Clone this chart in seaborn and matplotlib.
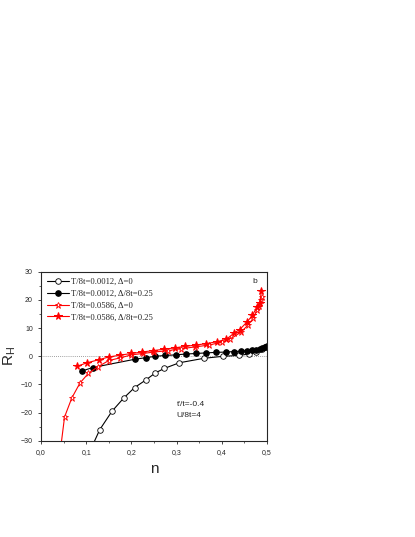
import matplotlib
matplotlib.use("Agg")
import matplotlib.pyplot as plt
import seaborn as sns
import numpy as np
from matplotlib.ticker import FuncFormatter, MultipleLocator

sns.set_style("ticks")
plt.rcParams['font.family'] = ['Liberation Sans', 'DejaVu Sans']

n_open_c = [0.110, 0.130, 0.157, 0.183, 0.207, 0.232, 0.253, 0.273, 0.306, 0.361, 0.403, 0.438, 0.460, 0.475, 0.490, 0.497]
r_open_c = [-33, -26, -19.5, -14.8, -11.1, -8.4, -5.9, -4.3, -2.3, -0.7, 0.0, 0.3, 0.8, 1.5, 2.5, 3.3]
n_fill_c = [0.091, 0.114, 0.209, 0.232, 0.253, 0.275, 0.298, 0.320, 0.343, 0.365, 0.388, 0.410, 0.428, 0.443, 0.455, 0.467, 0.477, 0.485, 0.490, 0.495, 0.500]
r_fill_c = [-5.2, -4.0, -1.0, -0.5, 0.0, 0.3, 0.5, 0.8, 1.0, 1.2, 1.4, 1.5, 1.7, 1.8, 2.0, 2.2, 2.4, 2.7, 3.0, 3.3, 3.6]
n_open_s = [0.043, 0.052, 0.068, 0.086, 0.105, 0.125, 0.150, 0.174, 0.200, 0.225, 0.250, 0.280, 0.310, 0.340, 0.372, 0.400, 0.418, 0.442, 0.458, 0.470, 0.478, 0.483, 0.487, 0.489]
r_open_s = [-33, -21.5, -14.8, -9.5, -6.0, -3.8, -1.5, -0.6, 0.5, 1.0, 1.5, 2.0, 2.7, 3.3, 4.0, 5.0, 6.0, 8.5, 11.0, 13.5, 16.5, 18.0, 20.0, 21.0]
n_fill_s = [0.080, 0.102, 0.128, 0.151, 0.175, 0.200, 0.223, 0.247, 0.272, 0.296, 0.318, 0.343, 0.366, 0.390, 0.410, 0.428, 0.440, 0.455, 0.468, 0.478, 0.484, 0.488]
r_fill_s = [-3.5, -2.3, -1.2, -0.2, 0.4, 1.0, 1.5, 2.0, 2.5, 3.0, 3.5, 4.0, 4.5, 5.2, 6.0, 8.3, 9.5, 12.0, 14.5, 17.5, 19.0, 23.0]
labels = ["T/8t=0.0012, Δ=0", "T/8t=0.0012, Δ/8t=0.25", "T/8t=0.0586, Δ=0", "T/8t=0.0586, Δ/8t=0.25"]

fig = plt.figure(figsize=(4.15, 5.37), dpi=100)
ax = fig.add_axes([0.099, 0.179, 0.544, 0.315])
ax.axhline(0, color='gray', lw=0.6, ls=(0, (1, 1.5)))
kw = dict(ax=ax, sort=False, estimator=None, lw=0.8)
sns.lineplot(x=n_open_c, y=r_open_c, color='black', marker='o', mfc='white', mec='black', mew=0.6, ms=4, label=labels[0], **kw)
sns.lineplot(x=n_fill_c, y=r_fill_c, color='black', marker='o', mfc='black', mec='black', ms=4, label=labels[1], **kw)
sns.lineplot(x=n_open_s, y=r_open_s, color='red', marker='*', mfc='white', mec='red', mew=0.6, ms=5, label=labels[2], **kw)
sns.lineplot(x=n_fill_s, y=r_fill_s, color='red', marker='*', mfc='red', mec='red', ms=5.5, label=labels[3], **kw)

ax.set_xlim(0, 0.5)
ax.set_ylim(-30, 30)
ax.xaxis.set_major_locator(MultipleLocator(0.1))
ax.xaxis.set_minor_locator(MultipleLocator(0.05))
ax.yaxis.set_major_locator(MultipleLocator(10))
ax.yaxis.set_minor_locator(MultipleLocator(5))
ax.xaxis.set_major_formatter(FuncFormatter(lambda v, p: f"{v:.1f}".replace('.', ',')))
ax.tick_params(labelsize=5, length=2.5, width=0.6, direction='out')
ax.tick_params(which='minor', length=1.5, width=0.5)
for s in ax.spines.values():
    s.set_linewidth(0.8)
ax.set_xlabel("n", fontsize=11)
ax.set_ylabel("R$_\\mathregular{H}$", fontsize=11, labelpad=2)
ax.text(0.468, 26, "b", fontsize=6)
ax.text(0.3, -17.5, "t'/t=-0.4", fontsize=6)
ax.text(0.3, -21.5, "U/8t=4", fontsize=6)
ax.legend(loc='upper left', frameon=False, prop={'family': 'Liberation Serif', 'size': 6.2},
          handlelength=2.5, borderaxespad=0.3, labelspacing=0.45, handletextpad=0.3)
fig.savefig("out.png", dpi=100)
